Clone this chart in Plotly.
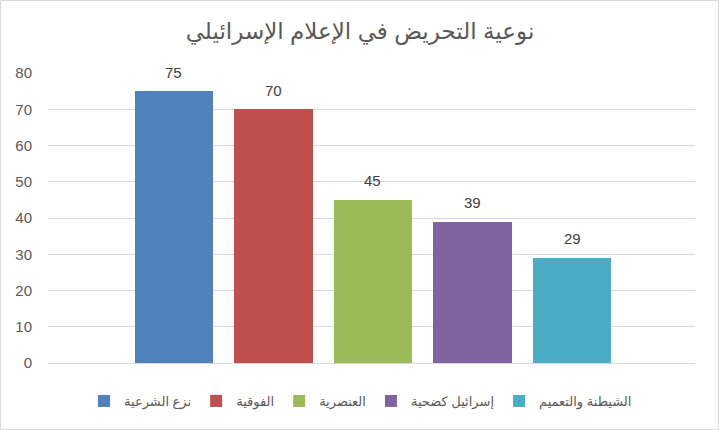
import plotly.graph_objects as go

categories = ["نزع الشرعية", "الفوقية", "العنصرية", "إسرائيل كضحية", "الشيطنة والتعميم"]
values = [75, 70, 45, 39, 29]
colors = ["#4F81BD", "#C0504D", "#9BBB59", "#8064A2", "#4BACC6"]
title = "نوعية التحريض في الإعلام الإسرائيلي"

W, H = 719, 430
L, R, T, B = 48, 24, 73, 67
pw, ph = W - L - R, H - T - B

fig = go.Figure()
for i, (c, v, col) in enumerate(zip(categories, values, colors)):
    fig.add_trace(go.Bar(
        x=[i], y=[v], name=c, marker=dict(color=col, line=dict(width=0)),
        width=0.79,
    ))
    fig.add_annotation(x=i, y=v, text=str(v), showarrow=False, yanchor="middle",
                       yshift=19, font=dict(size=15, color="#404040"))

fig.update_layout(
    width=W, height=H,
    margin=dict(l=L, r=R, t=T, b=B),
    paper_bgcolor="white", plot_bgcolor="white",
    font=dict(family="Liberation Sans, DejaVu Sans, sans-serif", color="#595959"),
    title=dict(text=title, x=(360 - L) / pw, xref="paper", xanchor="center",
               y=1 - 31 / H, yanchor="middle",
               font=dict(size=23, color="#595959")),
    showlegend=True,
    legend=dict(orientation="h", x=0.5 - 11 / pw, xanchor="center", y=-(401 - 363) / ph,
                yanchor="middle", font=dict(size=13, color="#595959"),
                traceorder="normal", itemwidth=30),
    bargap=0,
)
fig.update_xaxes(range=[-1.265, 5.235], showticklabels=False, showgrid=False, zeroline=False,
                 showline=False, ticks="")
fig.update_yaxes(range=[0, 80], dtick=10, showgrid=True, gridcolor="#D9D9D9", gridwidth=1,
                 zeroline=True, zerolinecolor="#D9D9D9", zerolinewidth=1,
                 tickfont=dict(size=15, color="#595959"), ticks="", ticklabelstandoff=15)

fig.add_shape(type="rect", xref="paper", yref="paper",
              x0=(0.5 - L) / pw, x1=(W - 0.5 - L) / pw,
              y0=(H - B - (H - 0.5)) / ph, y1=(H - B - 0.5) / ph,
              line=dict(color="#D9D9D9", width=1), fillcolor="rgba(0,0,0,0)", layer="below")

fig.write_html("out.html")
